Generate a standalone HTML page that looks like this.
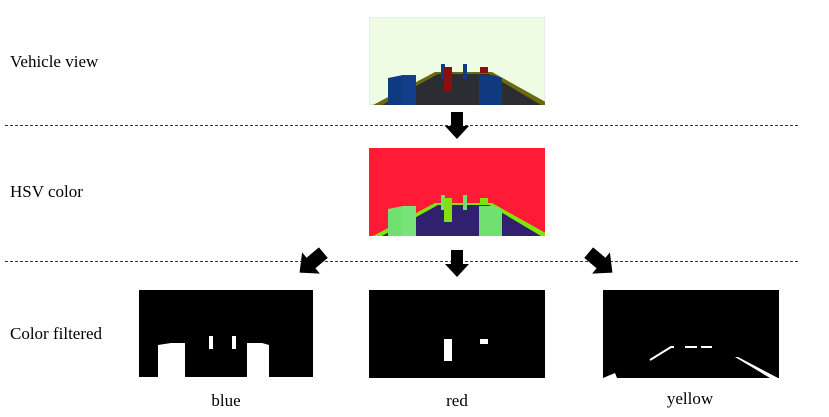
<!DOCTYPE html>
<html><head><meta charset="utf-8"><style>
html,body{margin:0;padding:0;background:#fff;}
svg{display:block;}
text{font-family:"Liberation Serif",serif;font-size:17px;fill:#000;}
</style></head><body>
<svg width="829" height="417" viewBox="0 0 829 417">
<defs>
<polygon id="arrow" points="-6,-14 6,-14 6,0 12,0 0,13 -12,0 -6,0" fill="#000"/>
</defs>
<text x="10" y="67">Vehicle view</text>
<text x="10" y="197">HSV color</text>
<text x="10" y="339">Color filtered</text>

<line x1="5" y1="125.5" x2="800" y2="125.5" stroke="#333" stroke-dasharray="3,2" stroke-width="1"/>
<line x1="5" y1="261.5" x2="800" y2="261.5" stroke="#333" stroke-dasharray="3,2" stroke-width="1"/>

<g>
<svg x="369" y="17" width="176" height="88" viewBox="0 0 176 88" overflow="hidden">
<rect width="176" height="88" fill="#eefce4" stroke="#dde" />
<polygon points="66,55 123,55 182,88 4,88" fill="#6b6a10"/>
<polygon points="69,57 120,57 172,88 13,88" fill="#2c2c33"/>
<polygon points="19,61 34,58 47,58 47,88 19,88" fill="#0f3a80"/>
<rect x="33" y="58" width="14" height="30" fill="#123e8c"/>
<polygon points="110,58 124,58 133,61 133,88 110,88" fill="#0f3a80"/>
<rect x="72" y="47" width="4" height="15" fill="#113a84"/>
<rect x="94" y="47" width="4" height="15" fill="#113a84"/>
<rect x="75" y="50" width="8" height="24" fill="#8a1010"/>
<rect x="111" y="50" width="8" height="6" fill="#8a1010"/>
</svg></g>

<use href="#arrow" x="457" y="126"/>

<g>
<svg x="369" y="148" width="176" height="88" viewBox="0 0 176 88" overflow="hidden">
<rect width="176" height="88" fill="#ff1b35"/>
<polygon points="66,55 123,55 182,88 4,88" fill="#7ee60a"/>
<polygon points="69,57 120,57 172,88 13,88" fill="#31206e"/>
<polygon points="19,61 34,58 47,58 47,88 19,88" fill="#70e070"/>
<rect x="33" y="58" width="14" height="30" fill="#7ae27a"/>
<polygon points="110,58 124,58 133,61 133,88 110,88" fill="#70e070"/>
<rect x="72" y="47" width="4" height="15" fill="#70e070"/>
<rect x="94" y="47" width="4" height="15" fill="#70e070"/>
<rect x="75" y="50" width="8" height="24" fill="#80e010"/>
<rect x="111" y="50" width="8" height="6" fill="#80e010"/>
</svg></g>

<use href="#arrow" x="457" y="264"/>
<use href="#arrow" transform="translate(311,263) rotate(50) scale(1.15)"/>
<use href="#arrow" transform="translate(601,263) rotate(-50) scale(1.15)"/>

<g>
<rect x="139" y="290" width="174" height="87" fill="#000"/>
<polygon points="158,345 171,343 185,343 185,377 158,377" fill="#fff"/>
<polygon points="247,343 262,343 269,345 269,377 247,377" fill="#fff"/>
<rect x="209" y="336" width="4" height="13" fill="#fff"/>
<rect x="232" y="336" width="4" height="13" fill="#fff"/>
</g>
<g>
<rect x="369" y="290" width="176" height="88" fill="#000"/>
<rect x="444" y="339" width="8" height="22" fill="#fff"/>
<rect x="480" y="339" width="8" height="5" fill="#fff"/>
</g>
<g>
<rect x="603" y="290" width="176" height="88" fill="#000"/>
<polyline points="650,360 671,347 674,347" fill="none" stroke="#fff" stroke-width="2"/>
<line x1="685" y1="347" x2="697" y2="347" stroke="#fff" stroke-width="2"/>
<line x1="701" y1="347" x2="712" y2="347" stroke="#fff" stroke-width="2"/>
<polygon points="735,357 738,357 778,378 770,378" fill="#fff"/>
<polygon points="603,378 615,373 617,378" fill="#fff"/>
</g>

<text x="226" y="406" text-anchor="middle">blue</text>
<text x="457" y="406" text-anchor="middle">red</text>
<text x="690" y="404" text-anchor="middle">yellow</text>
</svg>
</body></html>
